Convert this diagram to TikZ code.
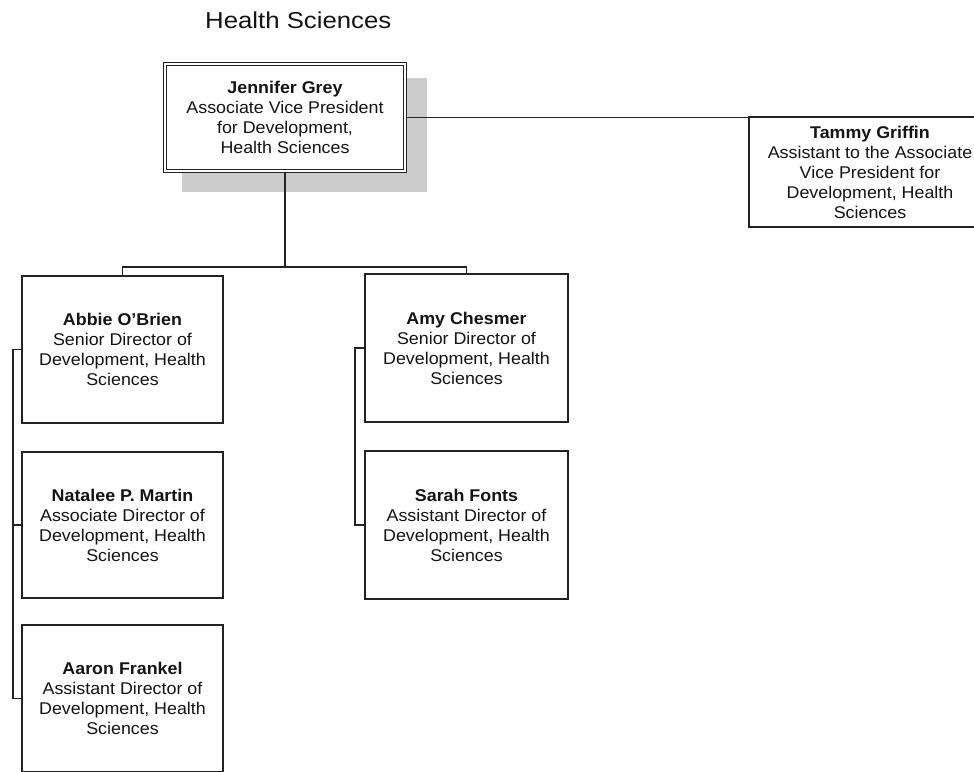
\documentclass[tikz,border=0pt]{standalone}
\usepackage{fontspec}
\setmainfont{Liberation Sans}
\newfontfamily\bodyfont[FakeStretch=1.05]{Liberation Sans}
\newfontfamily\titlefont[FakeStretch=1.12]{Liberation Sans}
\definecolor{linec}{HTML}{222222}
\definecolor{textc}{HTML}{141414}
\definecolor{shadowc}{HTML}{CCCCCC}
\begin{document}
\begin{tikzpicture}[x=1pt,y=-1pt,
  box/.style={draw=linec, line width=1.5pt, fill=white, minimum width=201pt,
    minimum height=147pt, align=center, font=\bodyfont\fontsize{17}{20}\selectfont,
    text=textc, inner sep=0pt},
  conn/.style={draw=linec, line width=1.6pt},
  title/.style={font=\titlefont\fontsize{23}{27}\selectfont, text=textc, inner sep=0pt}]
\useasboundingbox (0,0) rectangle (974,771);
\clip (0,0) rectangle (974,771);

\node[title, anchor=base west] (ttl) at (205,28) {Health Sciences};

% shadow of the top box
\fill[shadowc] (182,78) rectangle (427,192);

\node[box, double, double distance=2pt, line width=1.1pt,
  minimum width=240pt, minimum height=107pt] (jg) at (285,117.5)
  {\textbf{Jennifer Grey}\\Associate Vice President\\for Development,\\Health Sciences};

\node[box, minimum width=242pt, minimum height=110pt] (tg) at (870,172)
  {\textbf{Tammy Griffin}\\Assistant to the Associate\\Vice President for\\Development, Health\\Sciences};

\node[box] (ab) at (122.5,349.5)
  {\textbf{Abbie O’Brien}\\Senior Director of\\Development, Health\\Sciences};
\node[box, minimum height=146pt] (nm) at (122.5,525)
  {\textbf{Natalee P. Martin}\\Associate Director of\\Development, Health\\Sciences};
\node[box] (af) at (122.5,698.5)
  {\textbf{Aaron Frankel}\\Assistant Director of\\Development, Health\\Sciences};

\node[box, minimum width=203pt, minimum height=148pt] (ac) at (466.5,348)
  {\textbf{Amy Chesmer}\\Senior Director of\\Development, Health\\Sciences};
\node[box, minimum width=203pt, minimum height=148pt] (sf) at (466.5,525)
  {\textbf{Sarah Fonts}\\Assistant Director of\\Development, Health\\Sciences};

% connectors
\coordinate (bus) at (0,267);
\coordinate (lb) at (13,0);
\coordinate (rb) at (355,0);

\draw[conn] (jg.south) -- (jg.south |- bus);
\draw[conn] (ab.north) -- (ab.north |- bus) -- (ac.north |- bus) -- (ac.north);
\draw[conn] (jg.east) -- (jg.east -| tg.west);

\draw[conn] (ab.west) -- (ab.west -| lb) -- (af.west -| lb) -- (af.west);
\draw[conn] (nm.west) -- (nm.west -| lb);

\draw[conn] (ac.west) -- (ac.west -| rb) -- (sf.west -| rb) -- (sf.west);
\end{tikzpicture}
\end{document}
